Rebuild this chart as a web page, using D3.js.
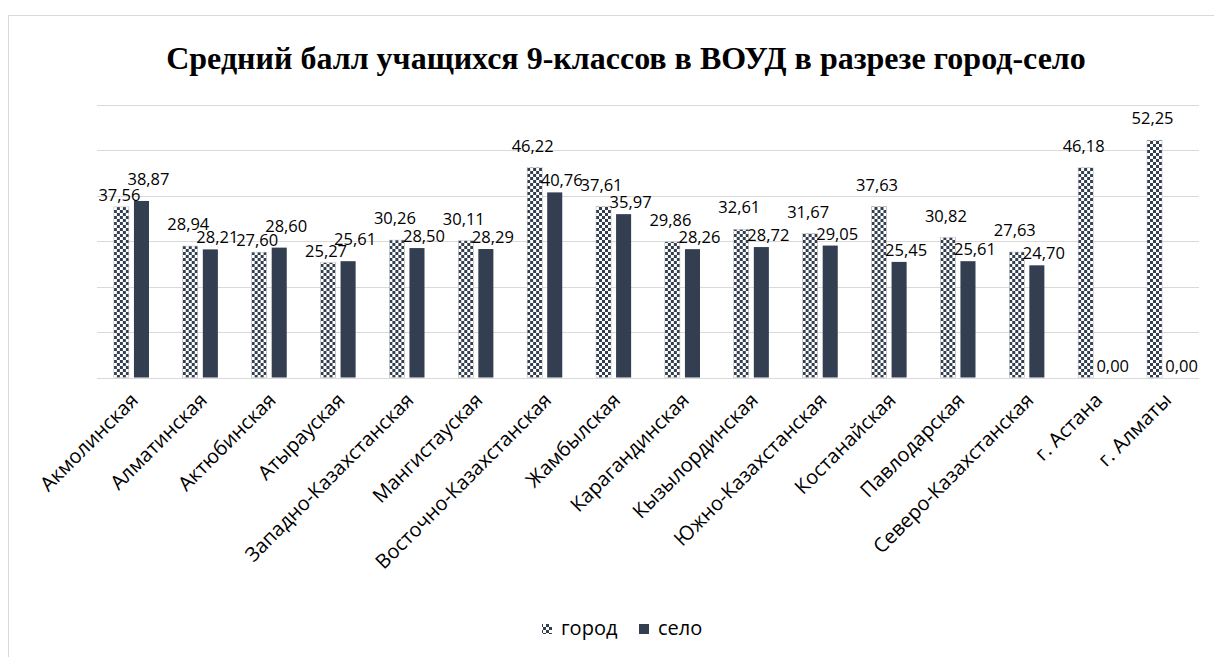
<!DOCTYPE html>
<html><head><meta charset="utf-8">
<script src="https://cdn.jsdelivr.net/npm/d3@7"></script>
<style>html,body{margin:0;padding:0;background:#fff;overflow:hidden}</style>
</head><body>
<svg id="chart" width="1214" height="657"></svg>
<script>
const categories = ["Акмолинская","Алматинская","Актюбинская","Атырауская","Западно-Казахстанская","Мангистауская","Восточно-Казахстанская","Жамбылская","Карагандинская","Кызылординская","Южно-Казахстанская","Костанайская","Павлодарская","Северо-Казахстанская","г. Астана","г. Алматы"];
const seriesNames = ["город","село"];
const gorod = [37.56,28.94,27.60,25.27,30.26,30.11,46.22,37.61,29.86,32.61,31.67,37.63,30.82,27.63,46.18,52.25];
const selo  = [38.87,28.21,28.60,25.61,28.50,28.29,40.76,35.97,28.26,28.72,29.05,25.45,25.61,24.70,0.00,0.00];
const yTicks = [0,10,20,30,40,50,60];
const title = "Средний балл учащихся 9-классов в ВОУД в разрезе город-село";

const svg = d3.select("#chart");
const W = 1214, H = 657;
const m = {left:97, right:15, top:105, bottom:279.5};
const dark = "#333F50";
const sans = "'Open Sans', sans-serif";

// outer border
svg.append("rect").attr("x",8.5).attr("y",15.5).attr("width",W).attr("height",H)
  .attr("fill","#fff").attr("stroke","#d9d9d9").attr("stroke-width",1);

const defs = svg.append("defs");
const pat = defs.append("pattern").attr("id","checker").attr("patternUnits","userSpaceOnUse")
  .attr("width",6).attr("height",6);
pat.append("rect").attr("width",6).attr("height",6).attr("fill","#fff");
pat.append("rect").attr("x",0).attr("y",0).attr("width",3).attr("height",3).attr("fill",dark);
pat.append("rect").attr("x",3).attr("y",3).attr("width",3).attr("height",3).attr("fill",dark);

const x0 = d3.scaleBand().domain(categories).range([m.left, W - m.right]).paddingInner(0.49).paddingOuter(0.245);
const x1 = d3.scaleBand().domain(seriesNames).range([0, x0.bandwidth()]).paddingInner(0.25);
const y = d3.scaleLinear().domain([0,60]).range([H - m.bottom, m.top]);

// title
svg.append("text").attr("x", 626).attr("y", 69).attr("text-anchor","middle")
  .attr("font-family","'Liberation Serif','Times New Roman',serif").attr("font-weight","bold")
  .attr("font-size",32).attr("fill","#000").text(title);

// gridlines
svg.append("g").selectAll("line").data(yTicks).join("line")
  .attr("x1", m.left).attr("x2", W - m.right)
  .attr("y1", d => Math.round(y(d)) + 0.5).attr("y2", d => Math.round(y(d)) + 0.5)
  .attr("stroke","#d9d9d9").attr("stroke-width",1);

const data = categories.map((c,i) => {
  const taller = gorod[i] >= selo[i] ? "город" : "село";
  return {cat:c, vals:[{s:"город", v:gorod[i], top: taller === "город"},{s:"село", v:selo[i], top: taller === "село"}]};
});

const groups = svg.append("g").selectAll("g").data(data).join("g")
  .attr("transform", d => `translate(${x0(d.cat)},0)`);

groups.selectAll("rect").data(d => d.vals).join("rect")
  .attr("x", d => x1(d.s)).attr("width", x1.bandwidth())
  .attr("y", d => y(d.v)).attr("height", d => y(0) - y(d.v))
  .attr("fill", d => d.s === "город" ? "url(#checker)" : dark)
  .attr("stroke", d => d.s === "город" ? "#bfbfbf" : "none").attr("stroke-width", 0.5);

const fmt = v => v.toFixed(2).replace(".", ",");
groups.selectAll("text").data(d => d.vals).join("text")
  .attr("x", d => x1(d.s) + x1.bandwidth()/2 + (d.s === "село" ? 7 : -2))
  .attr("y", d => y(d.v) - (d.top ? 16 : 6))
  .attr("text-anchor","middle").attr("font-family", sans).attr("font-size",16.5)
  .attr("fill","#000").text(d => fmt(d.v));

// x axis labels
svg.append("g").selectAll("text").data(categories).join("text")
  .attr("transform", d => `translate(${x0(d) + x0.bandwidth()/2 + 3},${y(0) + 19}) rotate(-45)`)
  .attr("text-anchor","end").attr("dy","0.35em")
  .attr("font-family", sans).attr("font-size",20).attr("fill","#000").text(d => d);

// legend
const leg = svg.append("g");
const legItems = [{s:"город", x:542},{s:"село", x:639}];
leg.selectAll("rect").data(legItems).join("rect")
  .attr("x", d => d.x).attr("y", 624).attr("width", 10).attr("height", 10)
  .attr("fill", d => d.s === "город" ? "url(#checker)" : dark);
leg.selectAll("text").data(legItems).join("text")
  .attr("x", d => d.x + 19).attr("y", 628).attr("dy","0.35em")
  .attr("font-family", sans).attr("font-size",20).attr("fill","#000").text(d => d.s);
</script>
</body></html>
